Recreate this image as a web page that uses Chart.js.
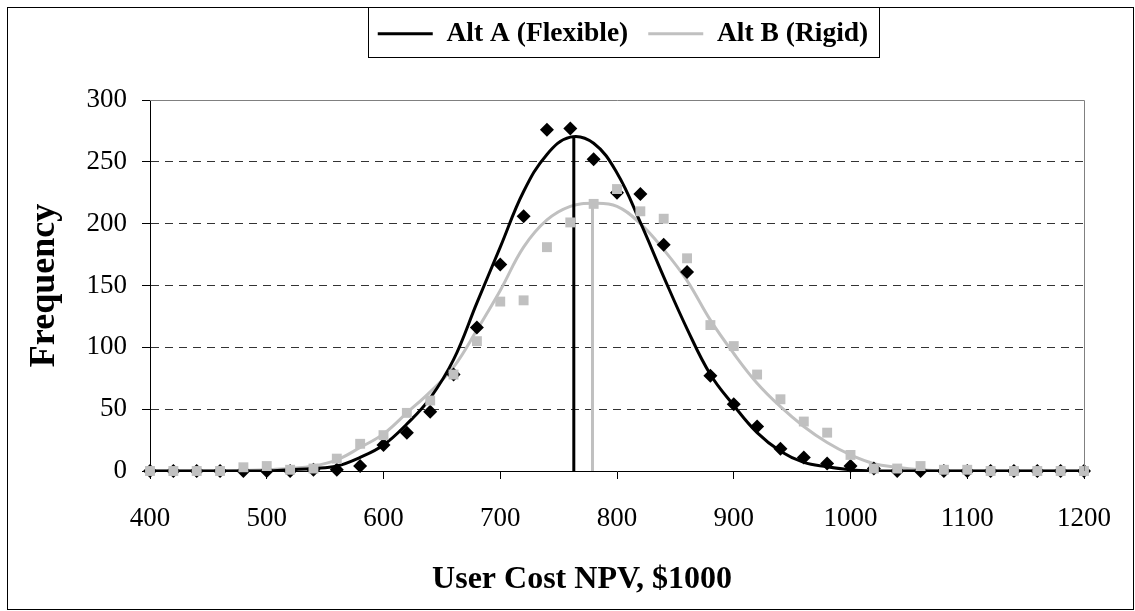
<!DOCTYPE html>
<html>
<head>
<meta charset="utf-8">
<script src="https://cdn.jsdelivr.net/npm/chart.js@4.4.1/dist/chart.umd.min.js"></script>
<style>
  html, body { margin: 0; padding: 0; background: #ffffff; }
  #wrap { width: 1135px; height: 611px; position: relative; }
</style>
</head>
<body>
<div id="wrap"><canvas id="npvChart" width="1135" height="611"></canvas></div>
<script>
// Bin centres of the user cost NPV histogram ($1000)
const npvBins = [400, 420, 440, 460, 480, 500, 520, 540, 560, 580,
                 600, 620, 640, 660, 680, 700, 720, 740, 760, 780,
                 800, 820, 840, 860, 880, 900, 920, 940, 960, 980,
                 1000, 1020, 1040, 1060, 1080, 1100, 1120, 1140, 1160, 1180, 1200];

// Simulated frequencies per bin
const altAFreq = [0, 0, 0, 0, 0, 0, 0, 1, 1, 4,
                  21, 31, 48, 78, 116, 167, 206, 276, 277, 252,
                  225, 224, 183, 161, 77, 54, 36, 18, 11, 6,
                  4, 2, 0, 0, 0, 0, 0, 0, 0, 0, 0];
const altBFreq = [0, 0, 0, 0, 3, 4, 1, 2, 10, 22,
                  29, 47, 57, 78, 105, 137, 138, 181, 201, 216,
                  228, 210, 204, 172, 118, 101, 78, 58, 40, 31,
                  13, 2, 2, 4, 1, 1, 0, 0, 0, 0, 0];

// Fitted distribution curves per bin
const altAFit = [0, 0, 0, 0, 0, 0, 1, 2, 4, 11,
                 21, 38, 59, 90, 136, 181, 226, 256, 270, 265,
                 241, 201, 157, 115, 78, 53, 31, 16, 7, 3.5,
                 1, 0, 0, 0, 0, 0, 0, 0, 0, 0, 0];
const altBFit = [0, 0, 0, 0, 0.5, 1, 2, 4, 9, 19,
                 30, 47, 64, 84, 114, 146, 181, 203, 214, 216.5,
                 214, 200, 179, 154, 122, 95, 71, 52, 36, 23,
                 13, 6, 3, 1, 0, 0, 0, 0, 0, 0, 0];

// Means of each alternative and the curve height there
const altAMean = 763, altAPeak = 270;
const altBMean = 779, altBPeak = 216;

const seriesNames = ['Alt A (Flexible)', 'Alt B (Rigid)'];
const xTitle = 'User Cost NPV, $1000';
const yTitle = 'Frequency';

const GREY = '#c0c0c0';
const SERIF = "'Liberation Serif', 'Times New Roman', serif";

const toPoints = (xs, ys) => xs.map((x, i) => ({ x: x, y: ys[i] }));

// Fixed legend band height, framed boxes and the value-axis caption
const frames = {
  id: 'frames',
  beforeLayout(chart) {
    const lg = chart.legend;
    if (lg && !lg._bandPatched) {
      const fit = lg.fit;
      lg.fit = function () { fit.call(this); if (this.options.display) this.height = 100; };
      lg._bandPatched = true;
    }
  },
  afterLayout(chart) {
    // nudge the legend row a little to the right
    const lg = chart.legend;
    if (lg) { lg.left += 6; lg.right += 6; }
  },
  afterDraw(chart) {
    const { ctx, chartArea: a } = chart;
    ctx.save();
    // plot area top and right edges
    ctx.strokeStyle = '#808080';
    ctx.lineWidth = 1;
    ctx.beginPath();
    ctx.moveTo(a.left, Math.round(a.top) + 0.5);
    ctx.lineTo(Math.round(a.right) + 0.5, Math.round(a.top) + 0.5);
    ctx.lineTo(Math.round(a.right) + 0.5, a.bottom);
    ctx.stroke();
    // outer chart frame
    ctx.strokeStyle = '#000000';
    ctx.strokeRect(7.5, 7.5, 1126, 602);
    // legend frame
    const hb = chart.legend && chart.legend.legendHitBoxes;
    if (hb && hb.length) {
      const l = Math.round(hb[0].left - 10) + 0.5;
      const last = hb[hb.length - 1];
      const r = Math.round(last.left + last.width + 11) + 0.5;
      ctx.strokeRect(l, 7.5, r - l, 50);
    }
    // x-axis caption, centred under the whole chart body
    ctx.fillStyle = '#000000';
    ctx.font = 'bold 32px ' + SERIF;
    ctx.textAlign = 'center';
    ctx.textBaseline = 'middle';
    ctx.fillText(xTitle, 582, 580);
    ctx.restore();
  }
};

new Chart(document.getElementById('npvChart'), {
  type: 'scatter',
  data: {
    datasets: [
      {
        label: 'Alt B data',
        data: toPoints(npvBins, altBFreq),
        pointStyle: 'rect', pointRadius: 7, pointHoverRadius: 7,
        backgroundColor: GREY, borderColor: GREY, borderWidth: 0,
        showLine: false, clip: false
      },
      {
        label: 'Alt A data',
        data: toPoints(npvBins, altAFreq),
        pointStyle: 'rectRot', pointRadius: 7, pointHoverRadius: 7,
        backgroundColor: '#000000', borderColor: '#000000', borderWidth: 0,
        showLine: false, clip: false
      },
      {
        label: 'Alt A mean',
        data: [{ x: altAMean, y: 0 }, { x: altAMean, y: altAPeak }],
        showLine: true, borderColor: '#000000', borderWidth: 3, pointRadius: 0
      },
      {
        label: 'Alt B mean',
        data: [{ x: altBMean, y: 0 }, { x: altBMean, y: altBPeak }],
        showLine: true, borderColor: GREY, borderWidth: 3, pointRadius: 0
      },
      {
        label: seriesNames[0],
        data: toPoints(npvBins, altAFit),
        showLine: true, borderColor: '#000000', backgroundColor: '#000000',
        borderWidth: 3, pointRadius: 0, tension: 0.4
      },
      {
        label: seriesNames[1],
        data: toPoints(npvBins, altBFit),
        showLine: true, borderColor: GREY, backgroundColor: GREY,
        borderWidth: 3, pointRadius: 0, tension: 0.4
      }
    ]
  },
  options: {
    responsive: false,
    animation: false,
    devicePixelRatio: 1,
    layout: { padding: { left: 0, right: 47, top: 0, bottom: 0 } },
    plugins: {
      tooltip: { enabled: false },
      legend: {
        position: 'top',
        fullSize: false,
        align: 'center',
        labels: {
          filter: item => seriesNames.includes(item.text),
          usePointStyle: true,
          pointStyle: 'line',
          pointStyleWidth: 55,
          padding: 20,
          color: '#000000',
          font: { family: SERIF, size: 27.5, weight: 'bold' }
        }
      }
    },
    scales: {
      x: {
        type: 'linear',
        min: 400, max: 1200,
        afterFit: s => { s.height = 140; },
        ticks: {
          stepSize: 100,
          padding: 24,
          color: '#000000',
          font: { family: SERIF, size: 27 },
          callback: v => String(v)
        },
        grid: {
          drawOnChartArea: false,
          drawTicks: true,
          tickLength: 8,
          tickColor: '#000000',
          color: '#000000'
        },
        border: { color: '#000000', width: 1 },
        title: { display: false, text: xTitle }
      },
      y: {
        min: 0, max: 300,
        afterFit: s => { s.width = 150; },
        ticks: {
          stepSize: 50,
          padding: 15,
          color: '#000000',
          font: { family: SERIF, size: 27 },
          callback: v => String(v)
        },
        grid: {
          drawTicks: true,
          tickLength: 8,
          tickColor: '#000000',
          tickBorderDash: [],
          lineWidth: 1,
          color: c => (c.tick && (c.tick.value === 0 || c.tick.value === 300)) ? 'rgba(0,0,0,0)' : '#333333'
        },
        border: { color: '#000000', width: 1, dash: [8, 6] },
        title: {
          display: true,
          text: yTitle,
          color: '#000000',
          font: { family: SERIF, size: 36, weight: 'bold' },
          padding: { top: 23, bottom: 0 }
        }
      }
    }
  },
  plugins: [frames]
});
</script>
</body>
</html>
